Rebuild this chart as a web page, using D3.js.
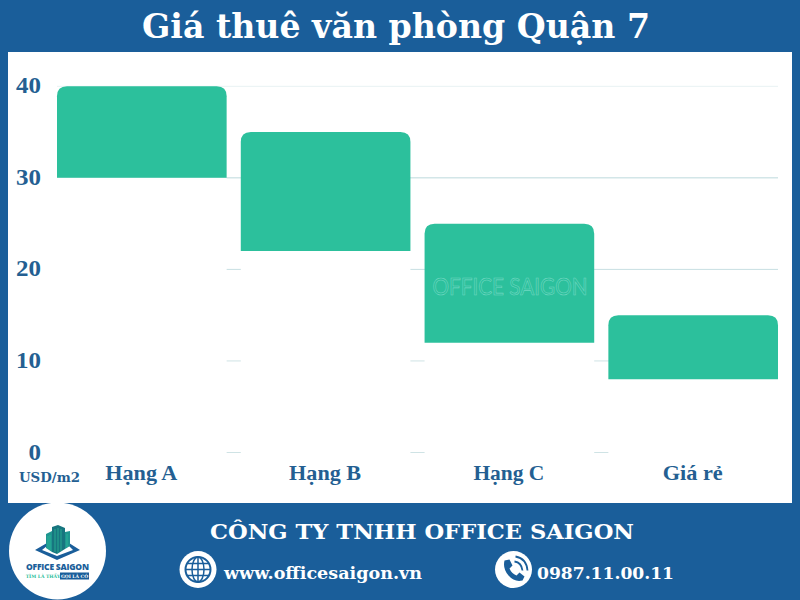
<!DOCTYPE html>
<html><head><meta charset="utf-8">
<script src="https://cdn.jsdelivr.net/npm/d3@7"></script>
<style>html,body{margin:0;padding:0;background:#1a5e9a}svg{display:block}</style>
</head><body><svg id="c" width="800" height="600"></svg>
<script>
const categories = ["Hạng A","Hạng B","Hạng C","Giá rẻ"];
const lowValues = [30,22,12,8];
const highValues = [40,35,25,15];
const yTicks = [0,10,20,30,40];
const gridColors = ["#cfe3e5","#cfe3e5","#c8dfe2","#bcd9dc","#e8f2f3"];
const BLUE="#1a5e9a", GREEN="#2cc09c", TXT="#245f92";
const SERIF="'DejaVu Serif',serif", SERIF2="'Liberation Serif',serif";
const svg=d3.select("#c");
svg.append("rect").attr("width",800).attr("height",600).attr("fill",BLUE);
svg.append("rect").attr("x",8).attr("y",52).attr("width",784).attr("height",451).attr("fill","#fff");
svg.append("text").attr("x",396).attr("y",37.5).attr("text-anchor","middle").attr("fill","#fff")
  .attr("font-family",SERIF).attr("font-weight",700).attr("font-size",33).attr("textLength",508).attr("lengthAdjust","spacingAndGlyphs").text("Giá thuê văn phòng Quận 7");
const x=d3.scaleBand().domain(categories).range([57,778]).paddingInner(0.077).paddingOuter(0);
const y=d3.scaleLinear().domain([0,40]).range([452.5,86.3]);
svg.append("g").selectAll("line").data(yTicks).join("line")
  .attr("x1",57).attr("x2",778).attr("y1",d=>y(d)).attr("y2",d=>y(d))
  .attr("stroke",(d,i)=>gridColors[i]).attr("stroke-width",1);
svg.append("g").selectAll("text").data(yTicks).join("text")
  .attr("x",41).attr("y",d=>y(d)+7).attr("text-anchor","end").attr("fill",TXT)
  .attr("font-family",SERIF2).attr("font-weight",700).attr("font-size",23)
  .attr("textLength",d=>String(d).length*12.5).attr("lengthAdjust","spacingAndGlyphs").text(d=>d);
svg.append("text").attr("x",49.5).attr("y",482).attr("text-anchor","middle").attr("fill",TXT)
  .attr("font-family",SERIF).attr("font-weight",700).attr("font-size",13).attr("textLength",61).attr("lengthAdjust","spacingAndGlyphs").text("USD/m2");
svg.append("g").selectAll("rect").data(categories).join("rect")
  .attr("x",d=>x(d)).attr("width",x.bandwidth())
  .attr("y",(d,i)=>y(lowValues[i])).attr("height",(d,i)=>y(0)-y(lowValues[i])+1).attr("fill","#fff");
const r=10;
svg.append("g").selectAll("path").data(categories).join("path").attr("fill",GREEN)
 .attr("d",(d,i)=>{const a=x(d),b=a+x.bandwidth(),t=y(highValues[i]),l=y(lowValues[i]);
   return `M${a},${l}V${t+r}Q${a},${t} ${a+r},${t}H${b-r}Q${b},${t} ${b},${t+r}V${l}Z`;});
const catW=[72,72,71,60];
svg.append("g").selectAll("text").data(categories).join("text")
  .attr("x",d=>x(d)+x.bandwidth()/2-.5).attr("y",480).attr("text-anchor","middle").attr("fill",TXT)
  .attr("font-family",SERIF2).attr("font-weight",700).attr("font-size",22)
  .attr("textLength",(d,i)=>catW[i]).attr("lengthAdjust","spacingAndGlyphs").text(d=>d);
svg.append("text").attr("x",510).attr("y",295).attr("text-anchor","middle").attr("fill","none")
  .attr("stroke","#72d8c2").attr("stroke-width",.6).attr("font-family","Lato,sans-serif").attr("font-size",23)
  .attr("textLength",155).attr("lengthAdjust","spacingAndGlyphs").text("OFFICE SAIGON");
svg.append("text").attr("x",422).attr("y",539).attr("text-anchor","middle").attr("fill","#fff")
  .attr("font-family",SERIF).attr("font-weight",700).attr("font-size",21).attr("textLength",424).attr("lengthAdjust","spacingAndGlyphs").text("CÔNG TY TNHH OFFICE SAIGON");
svg.append("text").attr("x",224).attr("y",579).attr("fill","#fff").attr("font-family",SERIF).attr("font-weight",700)
  .attr("font-size",17).attr("textLength",198).attr("lengthAdjust","spacingAndGlyphs").text("www.officesaigon.vn");
svg.append("text").attr("x",537).attr("y",579).attr("fill","#fff").attr("font-family",SERIF).attr("font-weight",700)
  .attr("font-size",17.5).attr("textLength",137).attr("lengthAdjust","spacingAndGlyphs").text("0987.11.00.11");
const g=svg.append("g").attr("transform","translate(198,569.5)");
g.append("circle").attr("r",18.5).attr("fill","#fff");
g.append("circle").attr("r",12.5).attr("fill","none").attr("stroke",BLUE).attr("stroke-width",2);
g.append("ellipse").attr("rx",6).attr("ry",12.5).attr("fill","none").attr("stroke",BLUE).attr("stroke-width",1.5);
g.append("path").attr("d","M0,-12.5V12.5M-12.5,0H12.5M-11,-6H11M-11,6H11").attr("stroke",BLUE).attr("stroke-width",1.5).attr("fill","none");
const p=svg.append("g").attr("transform","translate(513.5,569.5)");
p.append("circle").attr("r",18.5).attr("fill","#fff");
p.append("path").attr("d","M-9,-9 L-4,-10 L-1,-4 L-4,-1 Q-2,4 3,6 L6,3 L11,7 L9,11 Q1,13 -5,6 Q-11,-1 -9,-9Z").attr("fill",BLUE);
p.append("path").attr("d","M1,-8 Q8,-7 9,1M2,-13 Q13,-11 14,1").attr("stroke",BLUE).attr("stroke-width",1.8).attr("fill","none");
const L=svg.append("g");
L.append("circle").attr("cx",57.5).attr("cy",551).attr("r",48.5).attr("fill","#fff");
L.append("path").attr("d","M35,550 L47,543 V546 L42,550 L57,556 L73,550 L69,546 V543 L80,550 L57,560 Z").attr("fill",BLUE);
const tower=(pts,c)=>L.append("path").attr("d",pts).attr("fill",c);
tower("M46,534 L52,531 V552 L46,548Z","#1f9590");
tower("M52,527 L58,525 L65,528 V549 L57,554 L52,552Z","#17757f");
tower("M65,532 L70,531 V546 L65,549Z","#1f9590");
L.append("path").attr("d","M55,529V552M58,528V553M61,529V551M48,536V549M50,535V550M67,534V547")
  .attr("stroke","#2cc09c").attr("stroke-width",.7).attr("fill","none");
L.append("text").attr("x",57.5).attr("y",570).attr("text-anchor","middle").attr("fill",BLUE).attr("font-family","'Open Sans',sans-serif").attr("font-weight",800).attr("font-size",8.5).attr("textLength",63).text("OFFICE SAIGON");
L.append("text").attr("x",43).attr("y",578).attr("text-anchor","middle").attr("fill","#2cc09c").attr("font-family",SERIF).attr("font-weight",700).attr("font-size",4.5).text("TÌM LÀ THẤY");
L.append("rect").attr("x",60).attr("y",572.5).attr("width",29).attr("height",7).attr("fill",BLUE);
L.append("text").attr("x",74.5).attr("y",578).attr("text-anchor","middle").attr("fill","#fff").attr("font-family",SERIF).attr("font-weight",700).attr("font-size",4.5).text("GỌI LÀ CÓ");
</script></body></html>
